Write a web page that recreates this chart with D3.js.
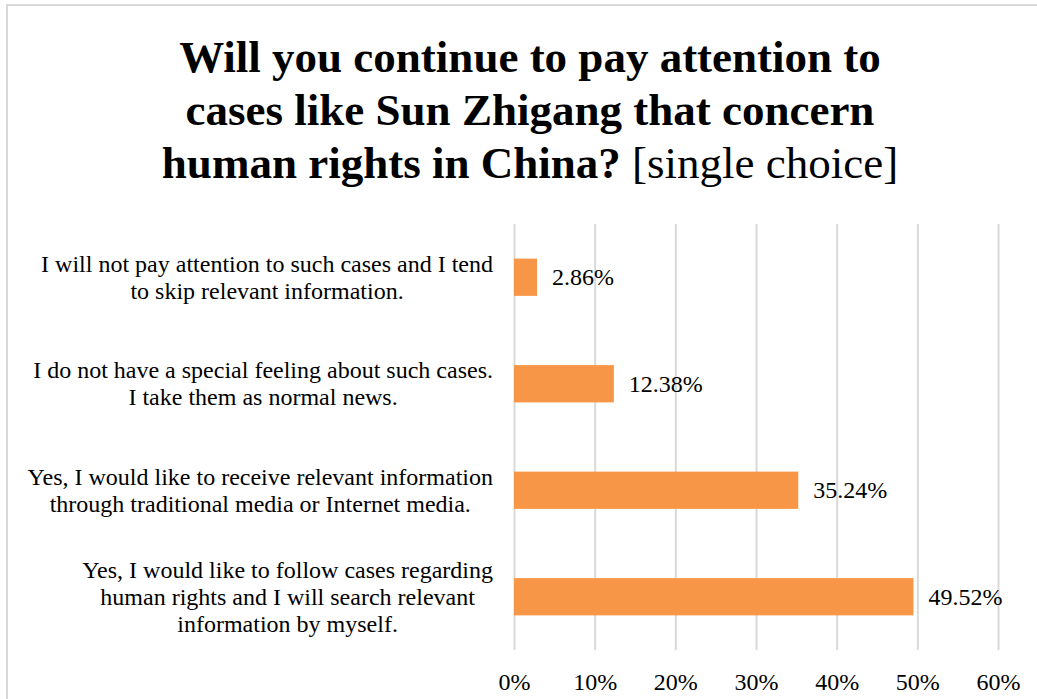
<!DOCTYPE html>
<html>
<head>
<meta charset="utf-8">
<script src="https://cdn.jsdelivr.net/npm/d3@7"></script>
<style>
  html, body { margin: 0; padding: 0; background: #fff; }
  svg { display: block; }
</style>
</head>
<body>
<svg id="chart" width="1037" height="699"></svg>
<script>
// Survey answers, top to bottom, each label split into its display lines
const categories = [
  ["I will not pay attention to such cases and I tend", "to skip relevant information."],
  ["I do not have a special feeling about such cases.", "I take them as normal news."],
  ["Yes, I would like to receive relevant information", "through traditional media or Internet media."],
  ["Yes, I would like to follow cases regarding", "human rights and I will search relevant", "information by myself."]
];
const values = [2.86, 12.38, 35.24, 49.52];
const tickValues = [0, 10, 20, 30, 40, 50, 60];
const titleLines = [
  [{ t: "Will you continue to pay attention to", bold: true }],
  [{ t: "cases like Sun Zhigang that concern", bold: true }],
  [{ t: "human rights in China?", bold: true }, { t: " [single choice]", bold: false }]
];

const FONT = "Times New Roman, Liberation Serif, Times, serif";
const svg = d3.select("#chart").attr("font-family", FONT);
const W = 1037, H = 699;
const plot = { left: 514, right: 998, top: 224, bottom: 650 };

// Chart frame
svg.append("rect")
  .attr("x", 7).attr("y", 5)
  .attr("width", W + 20).attr("height", H + 20)
  .attr("fill", "none").attr("stroke", "#d9d9d9").attr("stroke-width", 2);

const x = d3.scaleLinear().domain([0, 60]).range([plot.left, plot.right]);
const y = d3.scaleBand()
  .domain(d3.range(categories.length))
  .range([plot.top, plot.bottom])
  .paddingInner(0.65).paddingOuter(0.325);

// Vertical gridlines via the x axis
const xAxis = d3.axisBottom(x)
  .tickValues(tickValues)
  .tickFormat(d => d + "%")
  .tickSize(-(plot.bottom - plot.top))
  .tickPadding(0);

const gx = svg.append("g")
  .attr("transform", `translate(0,${plot.bottom})`)
  .call(xAxis)
  .attr("font-family", FONT)
  .attr("font-size", 24);
gx.select(".domain").remove();
gx.selectAll(".tick line").attr("stroke", "#d9d9d9").attr("stroke-width", 2);
gx.selectAll(".tick text")
  .attr("y", 40).attr("dy", 0)
  .attr("fill", "#000");

// Bars
svg.append("g").selectAll("rect")
  .data(values)
  .join("rect")
  .attr("x", x(0))
  .attr("y", (d, i) => y(i))
  .attr("width", d => x(d) - x(0))
  .attr("height", y.bandwidth())
  .attr("fill", "#F79646");

// Value labels
svg.append("g").attr("font-size", 24).selectAll("text")
  .data(values)
  .join("text")
  .attr("x", d => x(d) + 15)
  .attr("y", (d, i) => y(i) + y.bandwidth() / 2 + 8)
  .text(d => d.toFixed(2) + "%");

// Category labels: lines centred on each other, block right-aligned
const labelRight = 493, lineH = 26.8;
categories.forEach((lines, i) => {
  const g = svg.append("g").attr("font-size", 24);
  const cy = y(i) + y.bandwidth() / 2;
  const texts = lines.map((ln, j) => g.append("text")
    .attr("text-anchor", "middle")
    .attr("y", cy + (j - (lines.length - 1) / 2) * lineH + 8)
    .text(ln));
  const maxW = d3.max(texts, t => t.node().getComputedTextLength());
  texts.forEach(t => t.attr("x", labelRight - maxW / 2));
});

// Title
const titleCx = 530, titleBase = 72, titleLH = 53;
titleLines.forEach((parts, i) => {
  const t = svg.append("text")
    .attr("x", titleCx)
    .attr("y", titleBase + i * titleLH)
    .attr("text-anchor", "middle")
    .attr("font-size", 45);
  parts.forEach(p => t.append("tspan")
    .attr("font-weight", p.bold ? "bold" : "normal")
    .text(p.t));
});
</script>
</body>
</html>
